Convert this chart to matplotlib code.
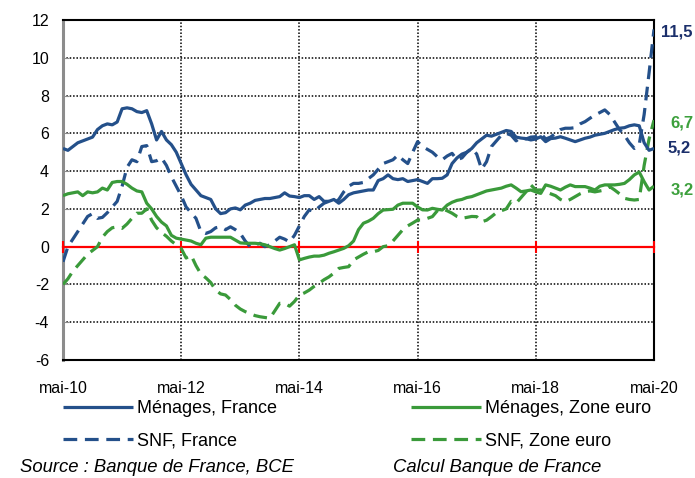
import numpy as np
import matplotlib
matplotlib.use("Agg")
import matplotlib.pyplot as plt

plt.rcParams['font.family'] = ['Liberation Sans', 'DejaVu Sans']
plt.rcParams['axes.unicode_minus'] = False

# ---- data : monthly, May 2010 -> May 2020 (121 months) ----
tick_labels = ["mai-10", "mai-12", "mai-14", "mai-16", "mai-18", "mai-20"]

menages_france = [
    5.2, 5.1, 5.3, 5.5, 5.6, 5.7, 5.8, 6.2, 6.4, 6.5, 6.45, 6.6,
    7.3, 7.35, 7.3, 7.15, 7.1, 7.2, 6.5, 5.65, 6.1, 5.65, 5.4, 5.0,
    4.4, 3.8, 3.3, 3.0, 2.7, 2.6, 2.5, 2.0, 1.75, 1.8, 2.0, 2.05,
    1.95, 2.2, 2.3, 2.45, 2.5, 2.55, 2.55, 2.6, 2.65, 2.85, 2.68, 2.65,
    2.6, 2.7, 2.7, 2.5, 2.65, 2.4, 2.4, 2.5, 2.3, 2.5, 2.75, 2.85,
    2.9, 2.95, 3.0, 3.0, 3.5, 3.6, 3.8, 3.6, 3.55, 3.6, 3.45, 3.5,
    3.55, 3.45, 3.35, 3.6, 3.6, 3.62, 3.8, 4.4, 4.7, 4.9, 5.0, 5.2,
    5.5, 5.7, 5.9, 5.85, 5.95, 6.05, 6.15, 6.1, 5.8, 5.75, 5.72, 5.65,
    5.7, 5.82, 5.56, 5.72, 5.75, 5.82, 5.74, 5.65, 5.56, 5.65, 5.74, 5.8,
    5.9, 5.95, 6.0, 6.1, 6.2, 6.27, 6.3, 6.4, 6.45, 6.4, 5.5, 5.1,
    5.2,
]

snf_france = [
    -0.8, 0.0, 0.4, 0.8, 1.2, 1.6, 1.75, 1.5, 1.55, 1.8, 2.1, 2.4,
    3.2, 4.2, 4.6, 4.5, 5.3, 5.35, 4.5, 4.55, 4.7, 4.3, 3.7, 3.2,
    2.7, 2.1, 1.8, 1.5, 0.8, 0.7, 0.8, 1.0, 1.05, 0.9, 1.05, 0.9,
    0.7, 0.3, 0.0, 0.1, 0.18, 0.0, 0.1, 0.3, 0.5, 0.4, 0.25, 0.6,
    1.1, 1.6, 1.95, 1.85, 2.1, 2.3, 2.4, 2.3, 2.5, 2.9, 3.2, 3.35,
    3.35, 3.4, 3.6, 3.8, 4.1, 4.4, 4.5, 4.6, 4.85, 4.6, 4.4, 5.0,
    5.56, 5.3, 5.15, 5.0, 4.76, 4.6, 4.8, 4.94, 4.6, 4.7, 5.0, 5.2,
    4.9, 4.1, 4.5, 5.3, 5.6, 5.9, 6.0, 5.9, 5.6, 5.8, 5.7, 5.8,
    5.82, 6.0, 5.7, 5.8, 6.0, 6.2, 6.27, 6.27, 6.3, 6.5, 6.62, 6.8,
    6.97, 7.1, 7.24, 7.0, 6.6, 6.2, 5.9, 5.5, 5.2, 5.4, 7.0, 9.2,
    11.5,
]

menages_ze = [
    2.7, 2.8, 2.85, 2.9, 2.7, 2.9, 2.85, 2.9, 3.1, 3.0, 3.4, 3.45,
    3.45, 3.3, 3.1, 2.95, 2.9, 2.3, 2.0, 1.6, 1.3, 1.1, 0.6, 0.45,
    0.4, 0.35, 0.3, 0.18, 0.1, 0.45, 0.5, 0.5, 0.5, 0.5, 0.5, 0.35,
    0.2, 0.18, 0.18, 0.18, 0.15, 0.1, 0.0, -0.1, -0.18, -0.1, 0.0, 0.1,
    -0.7, -0.62, -0.55, -0.5, -0.5, -0.45, -0.35, -0.27, -0.18, -0.09, 0.05, 0.3,
    0.9, 1.24, 1.35, 1.5, 1.75, 1.94, 1.96, 1.98, 2.2, 2.3, 2.3, 2.3,
    2.1, 1.95, 1.94, 2.03, 1.98, 1.94, 2.2, 2.35, 2.45, 2.5, 2.6, 2.65,
    2.75, 2.85, 2.95, 3.0, 3.05, 3.1, 3.2, 3.27, 3.1, 2.91, 2.95, 3.0,
    2.9, 2.82, 3.27, 3.2, 3.1, 3.0, 3.15, 3.27, 3.18, 3.18, 3.18, 3.1,
    3.0, 3.2, 3.27, 3.27, 3.27, 3.3, 3.35, 3.55, 3.8, 3.95, 3.44, 3.0,
    3.2,
]

snf_ze = [
    -2.0, -1.7, -1.3, -1.0, -0.7, -0.4, -0.2, 0.0, 0.5, 0.8, 1.0, 1.05,
    0.97, 1.2, 1.5, 1.77, 1.77, 2.0, 1.4, 1.0, 0.75, 0.55, 0.3, 0.1,
    -0.1, -0.6, -0.45, -1.0, -1.45, -1.65, -1.9, -2.3, -2.5, -2.56, -2.8, -3.1,
    -3.3, -3.44, -3.55, -3.65, -3.71, -3.75, -3.79, -3.4, -3.0, -3.0, -3.15, -2.9,
    -2.56, -2.45, -2.3, -2.1, -1.94, -1.75, -1.6, -1.4, -1.15, -1.1, -1.06, -0.7,
    -0.55, -0.4, -0.27, -0.27, -0.2, 0.0, 0.05, 0.3, 0.6, 0.9, 1.1, 1.25,
    1.41, 1.41, 1.5, 1.59, 1.9, 2.0, 1.9, 1.77, 1.6, 1.5, 1.55, 1.6,
    1.59, 1.32, 1.4, 1.59, 1.8, 1.9, 2.0, 2.4, 2.3, 2.6, 2.9, 3.27,
    3.0, 3.0, 2.9, 2.8, 2.7, 2.5, 2.38, 2.5, 2.65, 2.8, 2.91, 2.95,
    2.9, 2.95, 3.0, 3.18, 3.0, 2.8, 2.56, 2.5, 2.47, 2.5, 4.3, 5.7,
    6.7,
]

series_labels = ["Ménages, France", "SNF, France", "Ménages, Zone euro", "SNF, Zone euro"]
source_left = "Source : Banque de France, BCE"
source_right = "Calcul Banque de France"

# ---- styles ----
BLUE = "#24508A"
GREEN = "#3A9A3A"
BLUE_TXT = "#1B2F6B"
GREEN_TXT = "#3CA03C"

months = np.arange(len(menages_france))
tick_pos = np.arange(0, len(months), 24)

fig = plt.figure(figsize=(6.95, 4.78), dpi=100)
ax = fig.add_axes([63 / 695, 1 - 360 / 478, 591 / 695, 340 / 478])

dash = (4.3, 2.4)
lw = 2.3
l1, = ax.plot(months, menages_france, color=BLUE, lw=lw, solid_capstyle='butt', zorder=4)
l2, = ax.plot(months, snf_france, color=BLUE, lw=lw, ls=(0, dash), dash_capstyle='butt', zorder=3)
l3, = ax.plot(months, menages_ze, color=GREEN, lw=lw, solid_capstyle='butt', zorder=4)
l4, = ax.plot(months, snf_ze, color=GREEN, lw=lw, ls=(0, dash), dash_capstyle='butt', zorder=3)

ax.set_xlim(0, len(months) - 1)
ax.set_ylim(-6, 12)
ax.set_yticks(np.arange(-6, 13, 2))
ax.set_xticks(tick_pos)
ax.set_xticklabels(tick_labels)

ax.grid(True, color='black', ls=(0, (1, 1.2)), lw=1.1)
ax.set_axisbelow(True)

# zero line with crossing red ticks
sec = ax.secondary_xaxis(1 / 3)
sec.set_zorder(2.5)
sec.set_xticks(tick_pos)
sec.tick_params(axis='x', direction='inout', length=9, width=1.5, color='#FF0000',
                labelbottom=False, labeltop=False)
for s in sec.spines.values():
    s.set_color('#FF0000')
    s.set_linewidth(1.6)

for s in ['top', 'right', 'bottom']:
    ax.spines[s].set_color('black')
    ax.spines[s].set_linewidth(1.5)
ax.spines['left'].set_color('#8c8c8c')
ax.spines['left'].set_linewidth(2.2)

ax.tick_params(axis='y', direction='in', length=4, color='#8c8c8c', labelsize=11.5, pad=10)
ax.tick_params(axis='x', length=0, labelsize=11.5, pad=15)

# end value labels
ends = [
    (snf_france, BLUE_TXT, 5, -2),
    (snf_ze, GREEN_TXT, 12, -2),
    (menages_france, BLUE_TXT, 10, 0),
    (menages_ze, GREEN_TXT, 12, -3),
]
for series, col, dx, dy in ends:
    ax.annotate(f"{series[-1]:.1f}".replace('.', ','), xy=(months[-1], series[-1]),
                xytext=(dx, dy), textcoords='offset points', ha='left', va='center',
                fontsize=12, fontweight='bold', color=col, annotation_clip=False)

# legend
handles = [l1, l2, l3, l4]
leg = fig.legend(handles, series_labels, ncol=2, loc='upper left',
                 bbox_to_anchor=(63 / 695, 1 - 400 / 478), frameon=False,
                 fontsize=13, handlelength=3.9, handletextpad=0.2,
                 columnspacing=7.4, labelspacing=0.85, borderpad=0, borderaxespad=0)

fig.text(20 / 695, 1 - 468 / 478, source_left, fontsize=13.3, style='italic', va='center', ha='left')
fig.text(393 / 695, 1 - 468 / 478, source_right, fontsize=13.3, style='italic', va='center', ha='left')

fig.savefig("out.png", dpi=100)
